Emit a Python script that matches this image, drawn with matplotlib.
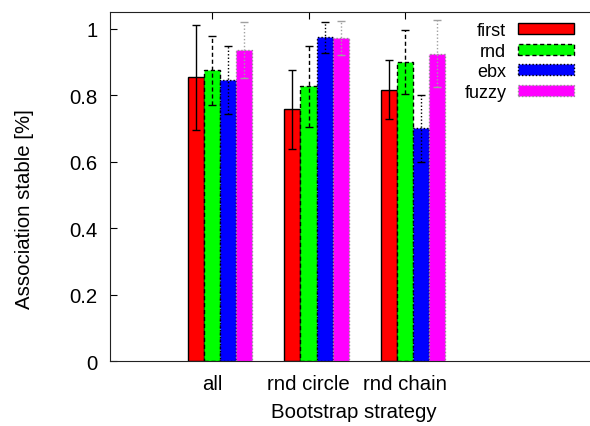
import numpy as np
import matplotlib
matplotlib.use("Agg")
import matplotlib.pyplot as plt

plt.rcParams['font.family'] = ['Liberation Sans', 'DejaVu Sans']

# data
categories = ["all", "rnd circle", "rnd chain"]
series = ["first", "rnd", "ebx", "fuzzy"]
first = [0.854, 0.757, 0.816]
first_err = [0.158, 0.119, 0.089]
rnd = [0.874, 0.826, 0.900]
rnd_err = [0.105, 0.121, 0.097]
ebx = [0.845, 0.974, 0.700]
ebx_err = [0.102, 0.046, 0.100]
fuzzy = [0.935, 0.971, 0.925]
fuzzy_err = [0.085, 0.051, 0.100]
yticks = [0, 0.2, 0.4, 0.6, 0.8, 1.0]

values = [first, rnd, ebx, fuzzy]
errors = [first_err, rnd_err, ebx_err, fuzzy_err]
colors = ["#ff0000", "#00ff00", "#0000ff", "#ff00ff"]
edge_colors = ["black", "black", "black", "#909090"]
styles = ["-", (0, (3, 2)), (0, (1, 1.5)), (0, (1, 1.5))]
err_colors = ["black", "black", "black", "#a0a0a0"]

fig = plt.figure(figsize=(5.9, 4.27), dpi=100)
ax = fig.add_axes([110/590, 1-362/427, 480/590, 349/427])

x = np.arange(len(categories))
w = 1/6
for j, name in enumerate(series):
    pos = x + (j-1)*w
    ax.bar(pos, values[j], width=w, color=colors[j], edgecolor=edge_colors[j],
           linestyle=styles[j], linewidth=1, label=name, zorder=2)
    eb = ax.errorbar(pos, values[j], yerr=errors[j], fmt='none', ecolor=err_colors[j],
                     elinewidth=1, capsize=3, capthick=1, zorder=3)
    eb[2][0].set_linestyle(styles[j])

ax.set_xlim(-1.057, 3.917)
ax.set_ylim(0, 1.05)
ax.set_xticks(x)
ax.set_xticklabels(categories, fontsize=14.7)
ax.set_yticks(yticks)
ax.set_yticklabels([f"{v:g}" for v in yticks], fontsize=14.7)
ax.tick_params(axis='y', direction='in', length=5, pad=9)
ax.tick_params(axis='x', direction='in', length=5, pad=9, top=True, bottom=False)
ax.spines['right'].set_visible(False)
for s in ['left', 'top', 'bottom']:
    ax.spines[s].set_color('#222222')

fig.text(25/590, 1-209/427, "Association stable [%]", rotation=90, ha='center', va='center', fontsize=14.7)
fig.text(354/590, 1-413/427, "Bootstrap strategy", ha='center', va='center', fontsize=14.7)

ax.legend(loc='upper right', bbox_to_anchor=(574/590, 1-23/427), bbox_transform=fig.transFigure,
          frameon=False, markerfirst=False, fontsize=13, handlelength=3.1, handleheight=0.55,
          handletextpad=0.65, labelspacing=0.2, borderpad=0, borderaxespad=0)

fig.savefig("out.png", dpi=100)
